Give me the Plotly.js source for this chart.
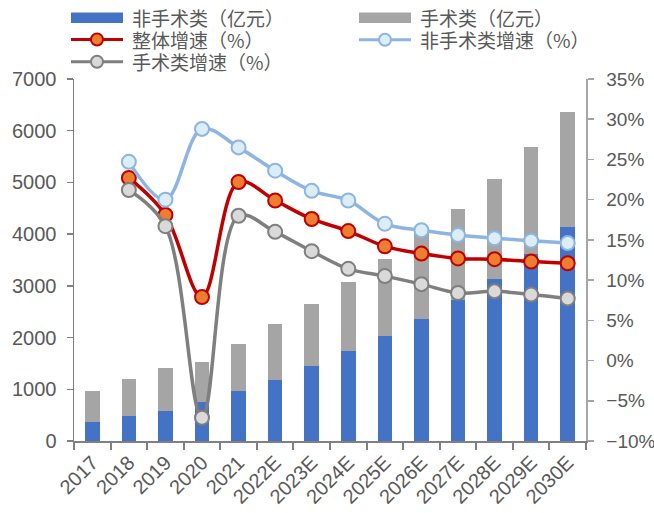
<!DOCTYPE html>
<html>
<head>
<meta charset="utf-8">
<script src="https://cdn.plot.ly/plotly-3.0.1.min.js"></script>
<style>
  html, body { margin: 0; padding: 0; background: #fff; }
  #chart { width: 654px; height: 513px; }
</style>
</head>
<body>
<div id="chart"></div>
<script>
// Years (E = estimate)
const years = ['2017', '2018', '2019', '2020', '2021', '2022E', '2023E', '2024E',
               '2025E', '2026E', '2027E', '2028E', '2029E', '2030E'];

// Market size, 亿元
const nonSurgical = [375, 476, 585, 753, 959, 1184, 1441, 1731, 2033, 2355, 2735, 3140, 3610, 4137];
const surgical    = [600, 727, 830, 778, 919, 1075, 1210, 1345, 1481, 1686, 1757, 1918, 2072, 2234];

// Growth rates, %
const overallGrowth     = [null, 22.7, 18.1, 7.9, 22.2, 19.9, 17.6, 16.1, 14.2, 13.3, 12.7, 12.6, 12.3, 12.1];
const nonSurgicalGrowth = [null, 24.7, 20.0, 28.8, 26.5, 23.6, 21.1, 19.9, 17.0, 16.2, 15.6, 15.2, 14.9, 14.6];
const surgicalGrowth    = [null, 21.2, 16.7, -7.1, 18.0, 16.0, 13.6, 11.4, 10.5, 9.5, 8.4, 8.6, 8.2, 7.7];

// Series names
const names = ['非手术类（亿元）', '手术类（亿元）', '整体增速（%）', '非手术类增速（%）', '手术类增速（%）'];

const COLORS = {
  blue: '#4472C4', grey: '#A5A5A5',
  red: '#C00000', orange: '#ED7D31',
  lightLine: '#8EB4E3', lightFill: '#DAEEF3',
  darkLine: '#7F7F7F', darkFill: '#D9D9D9',
  text: '#595959'
};

function growthTrace(name, values, line, fill) {
  return {
    type: 'scatter', mode: 'lines+markers', name: name,
    x: years, y: values, yaxis: 'y2',
    connectgaps: false,
    line: { color: line, width: 3.5, shape: 'spline', smoothing: 1 },
    marker: { size: 14, color: fill, line: { color: line, width: 2 } },
    cliponaxis: false
  };
}

const traces = [
  { type: 'bar', name: names[0], x: years, y: nonSurgical,
    marker: { color: COLORS.blue, line: { width: 0 } } },
  { type: 'bar', name: names[1], x: years, y: surgical,
    marker: { color: COLORS.grey, line: { width: 0 } } },
  growthTrace(names[2], overallGrowth, COLORS.red, COLORS.orange),
  growthTrace(names[3], nonSurgicalGrowth, COLORS.lightLine, COLORS.lightFill),
  growthTrace(names[4], surgicalGrowth, COLORS.darkLine, COLORS.darkFill)
];

// Plot-area geometry in pixels, used to place the hand-drawn legend
const W = 654, H = 513;
const M = { l: 74, r: 68, t: 79, b: 72 };
const PW = W - M.l - M.r, PH = H - M.t - M.b;
const px = v => (v - M.l) / PW;
const py = v => (H - M.b - v) / PH;

const legendFont = { family: 'Noto Sans CJK SC', size: 19, color: COLORS.text };
const shapes = [];
const annotations = [];

function legendBox(x, y, color, label) {
  shapes.push({ type: 'rect', xref: 'paper', yref: 'paper',
    x0: px(x), x1: px(x + 52), y0: py(y - 5.2), y1: py(y + 5.2),
    fillcolor: color, line: { width: 0 } });
  legendText(x + 60, y, label);
}
function legendLine(x, y, line, fill, label) {
  shapes.push({ type: 'line', xref: 'paper', yref: 'paper',
    x0: px(x), x1: px(x + 52), y0: py(y), y1: py(y),
    line: { color: line, width: 3 } });
  shapes.push({ type: 'circle', xref: 'paper', yref: 'paper',
    x0: px(x + 26 - 6), x1: px(x + 26 + 6), y0: py(y - 6), y1: py(y + 6),
    fillcolor: fill, line: { color: line, width: 2 } });
  legendText(x + 60, y, label);
}
function legendText(x, y, label) {
  annotations.push({ xref: 'paper', yref: 'paper', x: px(x), y: py(y),
    xanchor: 'left', yanchor: 'middle', showarrow: false,
    height: 21, borderpad: 0,
    text: label, font: legendFont });
}

legendBox(71, 17.8, COLORS.blue, names[0]);
legendBox(359, 17.8, COLORS.grey, names[1]);
legendLine(71, 39.5, COLORS.red, COLORS.orange, names[2]);
legendLine(359, 39.8, COLORS.lightLine, COLORS.lightFill, names[3]);
legendLine(71, 61.7, COLORS.darkLine, COLORS.darkFill, names[4]);

const tickFont = { family: 'Liberation Sans, Arial, sans-serif', size: 20, color: COLORS.text };
const tickFontRight = { family: 'Liberation Sans, Arial, sans-serif', size: 19, color: COLORS.text };

const layout = {
  width: W, height: H,
  margin: M,
  paper_bgcolor: '#fff', plot_bgcolor: '#fff',
  showlegend: false,
  barmode: 'stack',
  bargap: 0.6,
  xaxis: {
    type: 'category', range: [-0.5, 13.5],
    showgrid: false, zeroline: false,
    showline: true, linecolor: '#808080', linewidth: 2,
    ticks: 'outside', tickson: 'boundaries', ticklen: 7, tickwidth: 2, tickcolor: '#808080',
    tickangle: -45, tickfont: tickFont
  },
  yaxis: {
    range: [0, 7000], dtick: 1000,
    showgrid: false, zeroline: false,
    showline: true, linecolor: '#808080', linewidth: 1.5,
    ticks: 'outside', ticklen: 6, tickwidth: 1.5, tickcolor: '#808080',
    ticklabelstandoff: 6,
    tickfont: tickFont
  },
  yaxis2: {
    overlaying: 'y', side: 'right',
    range: [-10, 35], dtick: 5, ticksuffix: '%',
    showgrid: false, zeroline: false,
    showline: true, linecolor: '#A6A6A6', linewidth: 1.5,
    ticks: 'outside', ticklen: 6, tickwidth: 1.5, tickcolor: '#A6A6A6',
    ticklabelstandoff: 9,
    tickfont: tickFontRight
  },
  shapes: shapes,
  annotations: annotations
};

Plotly.newPlot('chart', traces, layout, { displayModeBar: false, staticPlot: true });
</script>
</body>
</html>
